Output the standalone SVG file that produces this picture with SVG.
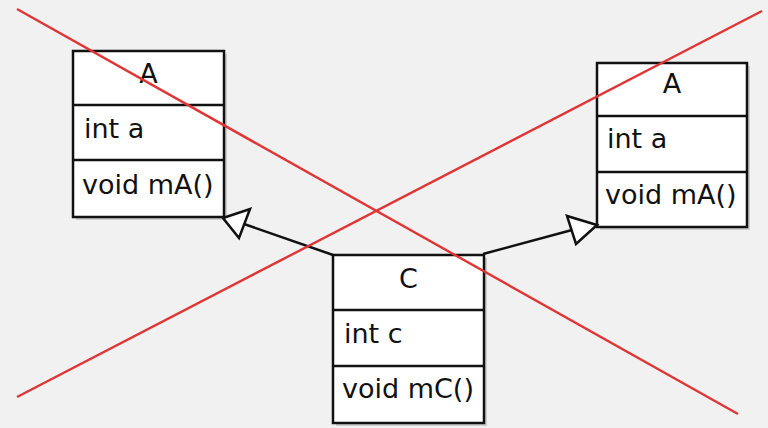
<svg xmlns="http://www.w3.org/2000/svg" width="768" height="428" viewBox="0 0 768 428">
  <style>
    .box { fill: #ffffff; stroke: #111111; stroke-width: 2.5; }
    .shadow { fill: #b8b8b8; opacity: 0.6; }
    .div { stroke: #111111; stroke-width: 2.5; }
    .t { font-family: "DejaVu Sans", "Liberation Sans", sans-serif; font-size: 27px; fill: #111111; }
    .c { text-anchor: middle; }
    .edge { stroke: #111111; stroke-width: 2.5; fill: none; }
    .head { fill: #ffffff; stroke: #111111; stroke-width: 2.5; stroke-linejoin: miter; }
    .cross { stroke: #e03535; stroke-width: 2.4; }
  </style>
  <rect width="768" height="428" fill="#f1f1f1"/>

  <g id="classA1">
    <rect class="shadow" x="76" y="54" width="151" height="166"/>
    <rect class="box" x="73" y="51" width="151" height="166"/>
    <line class="div" x1="73" y1="105" x2="224" y2="105"/>
    <line class="div" x1="73" y1="160" x2="224" y2="160"/>
    <text class="t c" x="148.5" y="83">A</text>
    <text class="t" x="84" y="138">int a</text>
    <text class="t" x="82" y="194">void mA()</text>
  </g>

  <g id="classA2">
    <rect class="shadow" x="600" y="66" width="150" height="164"/>
    <rect class="box" x="597" y="63" width="150" height="164"/>
    <line class="div" x1="597" y1="116" x2="747" y2="116"/>
    <line class="div" x1="597" y1="172" x2="747" y2="172"/>
    <text class="t c" x="672" y="93">A</text>
    <text class="t" x="607" y="148">int a</text>
    <text class="t" x="605" y="204">void mA()</text>
  </g>

  <g id="classC">
    <rect class="shadow" x="336" y="258" width="151" height="168"/>
    <rect class="box" x="333" y="255" width="151" height="168"/>
    <line class="div" x1="333" y1="310" x2="484" y2="310"/>
    <line class="div" x1="333" y1="366" x2="484" y2="366"/>
    <text class="t c" x="408.5" y="288">C</text>
    <text class="t" x="344" y="343">int c</text>
    <text class="t" x="342" y="398">void mC()</text>
  </g>

  <g id="connectors">
    <line class="edge" x1="333" y1="255" x2="244" y2="224"/>
    <polygon class="head" points="223,218 250,209 239,238"/>
    <line class="edge" x1="483" y1="254" x2="572" y2="230"/>
    <polygon class="head" points="597,225 567,216 576,244"/>
  </g>

  <g id="cross">
    <line class="cross" x1="17" y1="9" x2="738" y2="414"/>
    <line class="cross" x1="17" y1="397" x2="762" y2="11"/>
  </g>
</svg>
